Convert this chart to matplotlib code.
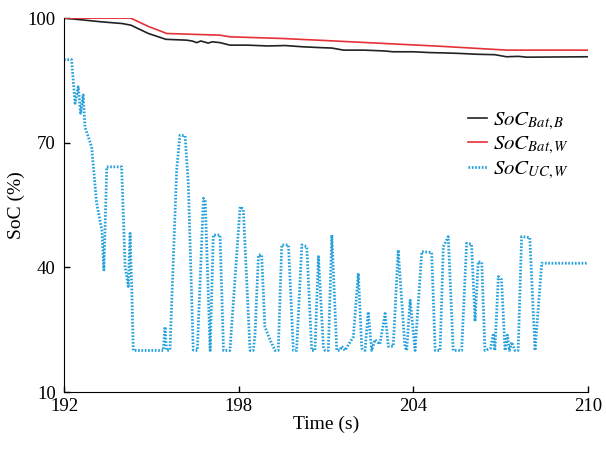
import matplotlib.pyplot as plt

plt.rcParams['font.family'] = ['Liberation Serif', 'DejaVu Serif']
plt.rcParams['mathtext.fontset'] = 'stix'

# SoC of battery, baseline strategy
t_bat_b = [192.0, 192.6, 193.3, 194.0, 194.3, 194.9, 195.5, 196.2, 196.4, 196.56, 196.7, 196.8,
           196.95, 197.1, 197.36, 197.7, 198.3, 199.0, 199.6, 200.2, 200.8, 201.2, 201.6, 202.3,
           203.0, 203.3, 204.0, 204.6, 205.2, 205.6, 206.2, 206.8, 207.2, 207.6, 207.9, 210.0]
soc_bat_b = [100.0, 99.6, 99.1, 98.7, 98.3, 96.3, 94.9, 94.7, 94.5, 94.1, 94.5, 94.3,
             94.0, 94.3, 94.1, 93.5, 93.5, 93.3, 93.4, 93.1, 92.9, 92.8, 92.3, 92.3,
             92.1, 91.9, 91.9, 91.7, 91.6, 91.5, 91.3, 91.2, 90.7, 90.8, 90.6, 90.7]

# SoC of battery, proposed strategy
t_bat_w = [192.0, 194.29, 194.9, 195.53, 197.36, 197.7, 199.5, 201.0, 203.0, 205.0, 207.2, 210.0]
soc_bat_w = [100.0, 100.0, 98.0, 96.3, 95.9, 95.5, 95.1, 94.6, 93.9, 93.2, 92.3, 92.3]

# SoC of ultracapacitor, proposed strategy
t_uc_w = [192.0, 192.26, 192.38, 192.49, 192.57, 192.66, 192.72, 192.95, 193.12, 193.3, 193.37,
          193.47, 193.98, 194.1, 194.21, 194.27, 194.33, 194.38, 195.41, 195.47, 195.52, 195.64,
          195.81, 195.87, 195.98, 196.16, 196.27, 196.44, 196.58, 196.79, 196.85, 197.02, 197.13,
          197.36, 197.48, 197.7, 198.05, 198.16, 198.39, 198.5, 198.56, 198.68, 198.79, 198.9,
          199.08, 199.25, 199.36, 199.48, 199.71, 199.88, 199.99, 200.17, 200.34, 200.51, 200.62,
          200.74, 200.91, 200.97, 201.08, 201.2, 201.37, 201.48, 201.54, 201.65, 201.94, 202.11,
          202.23, 202.34, 202.45, 202.57, 202.68, 202.85, 203.03, 203.14, 203.31, 203.48, 203.71,
          203.77, 203.89, 204.06, 204.29, 204.63, 204.75, 204.92, 205.03, 205.2, 205.37, 205.66,
          205.83, 206.0, 206.12, 206.23, 206.35, 206.46, 206.65, 206.75, 206.8, 206.92, 207.03,
          207.15, 207.23, 207.3, 207.38, 207.49, 207.6, 207.72, 208.0, 208.18, 208.41, 210.0]
soc_uc_w = [90.0, 90.0, 79.5, 83.5, 77.1, 81.5, 73.8, 69.0, 55.5, 49.0, 39.4,
            64.2, 64.2, 40.2, 35.4, 48.2, 34.5, 20.0, 20.0, 25.7, 20.0, 20.1,
            52.2, 63.4, 71.8, 71.7, 60.2, 20.1, 20.0, 56.6, 56.3, 20.0, 47.8,
            47.8, 20.0, 20.0, 54.6, 54.0, 20.0, 20.0, 23.6, 43.0, 43.0, 25.7,
            22.5, 20.0, 20.0, 45.4, 45.4, 20.0, 20.0, 45.4, 45.0, 20.0, 20.0,
            42.6, 20.9, 20.0, 20.0, 47.8, 20.0, 20.0, 21.0, 20.0, 23.3, 38.6,
            20.5, 20.0, 29.3, 20.0, 22.6, 21.5, 28.9, 21.0, 21.0, 44.2, 21.0,
            20.0, 32.1, 20.0, 43.8, 43.6, 20.0, 20.0, 45.0, 47.4, 20.0, 20.0,
            45.8, 45.6, 27.0, 41.4, 41.2, 20.0, 20.5, 24.1, 20.0, 37.8, 37.0,
            20.0, 23.7, 20.0, 22.0, 20.0, 20.0, 47.4, 47.2, 20.0, 41.0, 41.0]

fig = plt.figure(figsize=(6.06, 4.51), dpi=100)
ax = fig.add_axes([0.1056, 0.1308, 0.8647, 0.829])

ax.plot(t_bat_b, soc_bat_b, color='#222222', lw=1.2, label=r'$SoC_{Bat,B}$')
ax.plot(t_bat_w, soc_bat_w, color='#e53238', lw=1.2, label=r'$SoC_{Bat,W}$')
ax.plot(t_uc_w, soc_uc_w, color='#23a0dc', lw=2.0, ls=(0, (0.6, 0.6)), label=r'$SoC_{UC,W}$')

ax.set_xlim(192, 210)
ax.set_ylim(10, 100)
ax.set_xticks([192, 198, 204, 210])
ax.set_yticks([10, 40, 70, 100])
ax.tick_params(direction='in', length=4, labelsize=13.5, width=1)
ax.tick_params(axis='x', pad=4)
ax.tick_params(axis='y', pad=6)
ax.spines['top'].set_visible(False)
ax.spines['right'].set_visible(False)
ax.set_xlabel('Time (s)', fontsize=14, labelpad=1)
ax.set_ylabel('SoC (%)', fontsize=14, labelpad=2)

ax.legend(loc='upper left', bbox_to_anchor=(0.735, 0.803), frameon=False, fontsize=15,
          handlelength=0.9, handletextpad=0.3, labelspacing=0.15)

fig.savefig('out.png', dpi=100)
